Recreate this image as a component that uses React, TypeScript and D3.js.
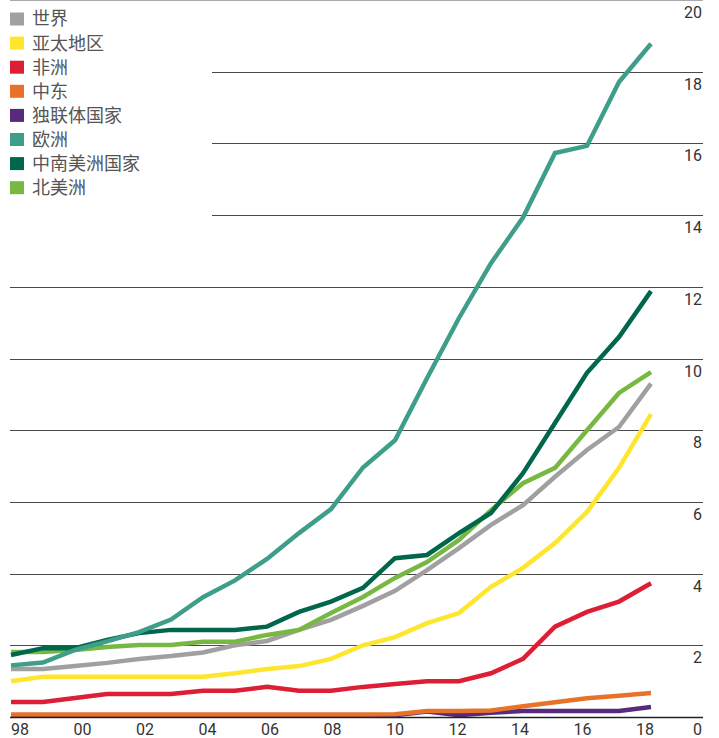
import React from "react";
import * as d3 from "d3";

const years = d3.range(1998, 2019);
const yearLabels = ["98", "00", "02", "04", "06", "08", "10", "12", "14", "16", "18"];
const yTicks = [0, 2, 4, 6, 8, 10, 12, 14, 16, 18, 20];

const seriesNames = ["世界", "亚太地区", "非洲", "中东", "独联体国家", "欧洲", "中南美洲国家", "北美洲"];
const seriesColors = ["#a0a0a0", "#ffe62e", "#dc1f35", "#e8722a", "#572a7d", "#3f9e8a", "#00664c", "#77b843"];

const world = [1.34, 1.34, 1.42, 1.51, 1.62, 1.7, 1.8, 2.0, 2.12, 2.43, 2.71, 3.1, 3.52, 4.1, 4.71, 5.36, 5.91, 6.7, 7.45, 8.09, 9.3];
const asiaPacific = [1.0, 1.12, 1.12, 1.12, 1.12, 1.12, 1.12, 1.22, 1.34, 1.42, 1.62, 2.0, 2.23, 2.62, 2.9, 3.63, 4.16, 4.85, 5.72, 6.95, 8.45];
const africa = [0.42, 0.42, 0.53, 0.64, 0.64, 0.64, 0.73, 0.73, 0.84, 0.73, 0.73, 0.84, 0.92, 1.0, 1.0, 1.22, 1.62, 2.52, 2.93, 3.22, 3.73];
const middleEast = [0.07, 0.07, 0.07, 0.07, 0.07, 0.07, 0.07, 0.07, 0.07, 0.07, 0.07, 0.07, 0.08, 0.17, 0.17, 0.18, 0.3, 0.41, 0.52, 0.59, 0.67];
const cis = [0.05, 0.05, 0.05, 0.05, 0.05, 0.05, 0.05, 0.05, 0.05, 0.05, 0.05, 0.05, 0.05, 0.15, 0.05, 0.12, 0.17, 0.17, 0.17, 0.17, 0.28];
const europe = [1.44, 1.52, 1.87, 2.11, 2.37, 2.72, 3.34, 3.81, 4.41, 5.13, 5.8, 6.96, 7.72, 9.45, 11.13, 12.66, 13.93, 15.73, 15.93, 17.71, 18.78];
const southCentralAmerica = [1.73, 1.92, 1.92, 2.15, 2.34, 2.43, 2.43, 2.43, 2.52, 2.93, 3.22, 3.6, 4.43, 4.52, 5.13, 5.69, 6.8, 8.2, 9.6, 10.6, 11.88];
const northAmerica = [1.81, 1.81, 1.87, 1.95, 2.01, 2.01, 2.1, 2.1, 2.29, 2.43, 2.9, 3.35, 3.88, 4.32, 4.94, 5.77, 6.52, 6.95, 8.0, 9.04, 9.62];

const seriesValues = [world, asiaPacific, africa, middleEast, cis, europe, southCentralAmerica, northAmerica];
const drawOrder = [4, 3, 2, 1, 0, 7, 6, 5];

const W = 719;
const H = 738;

export default function App() {
  const x = d3.scaleLinear().domain([1998, 2018]).range([11, 651]);
  const xLabel = d3.scaleLinear().domain([1998, 2018]).range([11, 636]);
  const y = d3.scaleLinear().domain([0, 20]).range([717, 0]);
  const line = d3
    .line<number>()
    .x((_, i) => x(years[i]))
    .y((d) => y(d));

  const font = "Roboto, 'Noto Sans CJK SC', sans-serif";

  return (
    <svg
      width={W}
      height={H}
      style={{ position: "absolute", left: 0, top: 0, background: "#fff" }}
      fontFamily={font}
    >
      {yTicks.map((t) => {
        const yy = Math.round(y(t)) + 0.5;
        const x0 = t >= 14 && t <= 18 ? 212 : 10;
        if (t === 0) return null;
        return (
          <line
            key={t}
            x1={x0}
            x2={703}
            y1={t === 20 ? 0.5 : yy}
            y2={t === 20 ? 0.5 : yy}
            stroke={t === 20 ? "#aaa" : "#4a4a4a"}
            strokeWidth={1}
          />
        );
      })}
      {drawOrder.map((si) => (
        <path
          key={si}
          d={line(seriesValues[si]) || ""}
          fill="none"
          stroke={seriesColors[si]}
          strokeWidth={4.5}
        />
      ))}
      <line x1={10} x2={703} y1={y(0) + 0.5} y2={y(0) + 0.5} stroke="#222" strokeWidth={1.5} />
      {yTicks.map((t) => (
        <text
          key={"yl" + t}
          x={702}
          y={y(t) + 18}
          textAnchor="end"
          fontSize={16}
          fill="#333"
        >
          {t}
        </text>
      ))}
      {yearLabels.map((lab, i) => (
        <text key={"xl" + lab} x={xLabel(1998 + i * 2)} y={735} fontSize={16} fill="#333">
          {lab}
        </text>
      ))}
      {seriesNames.map((name, i) => (
        <g key={name} transform={`translate(0, ${19 + i * 24.1})`}>
          <rect x={10} y={-6.5} width={14} height={13} fill={seriesColors[i]} />
          <text x={32} y={0} dy="0.36em" fontSize={18} fill="#555">
            {name}
          </text>
        </g>
      ))}
    </svg>
  );
}
